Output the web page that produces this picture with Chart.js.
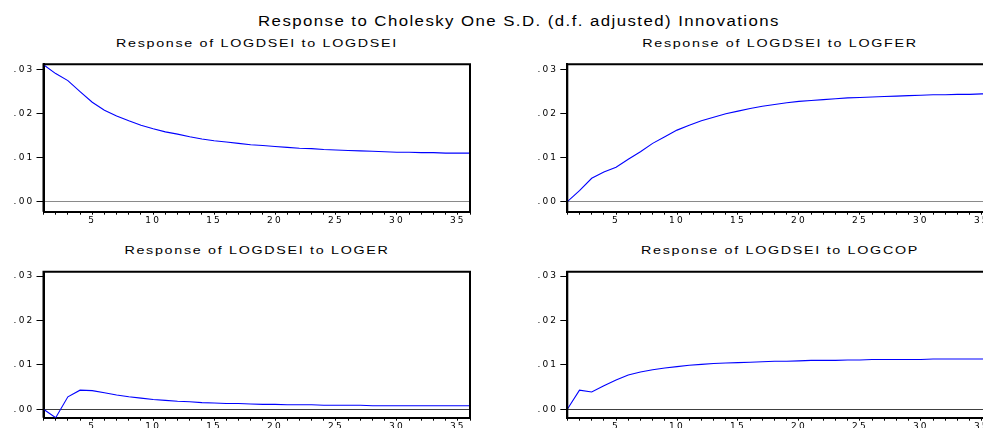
<!DOCTYPE html>
<html>
<head>
<meta charset="utf-8">
<script src="https://cdn.jsdelivr.net/npm/chart.js@4.4.1/dist/chart.umd.min.js"></script>
<style>
  html, body { margin:0; padding:0; background:#fff; width:983px; height:428px; overflow:hidden; }
  body { position:relative; font-family:"Liberation Sans", Arial, sans-serif; color:#000; }
  .box { position:absolute; }
  .t { position:absolute; white-space:nowrap; line-height:1; }
  .main { font-size:14px; letter-spacing:1.2px; transform:translate(-50%,-50%) scaleX(1.2); }
  .sub { font-size:11px; letter-spacing:1.3px; transform:translate(-50%,-50%) scaleX(1.3); }
</style>
</head>
<body>
<div class="t main" style="left:519px;top:21px;">Response to Cholesky One S.D. (d.f. adjusted) Innovations</div>
<div class="t sub" style="left:257px;top:43px;">Response of LOGDSEI to LOGDSEI</div>
<div class="t sub" style="left:780px;top:43px;">Response of LOGDSEI to LOGFER</div>
<div class="t sub" style="left:257px;top:250px;">Response of LOGDSEI to LOGER</div>
<div class="t sub" style="left:780px;top:250px;">Response of LOGDSEI to LOGCOP</div>

<div class="box" style="left:0px;top:55px;width:480px;height:185px;"><canvas id="c1"></canvas></div>
<div class="box" style="left:490px;top:55px;width:520px;height:185px;"><canvas id="c2"></canvas></div>
<div class="box" style="left:0px;top:262px;width:480px;height:185px;"><canvas id="c3"></canvas></div>
<div class="box" style="left:490px;top:262px;width:520px;height:185px;"><canvas id="c4"></canvas></div>

<script>
// ---- data ----
const periods = [1,2,3,4,5,6,7,8,9,10,11,12,13,14,15,16,17,18,19,20,21,22,23,24,25,26,27,28,29,30,31,32,33,34,35,36];
const xTickLabels = [5,10,15,20,25,30,35];
const yTickValues = [0.00, 0.01, 0.02, 0.03];

const respLOGDSEI = [0.0310,0.0290,0.0274,0.0249,0.0225,0.0207,0.0194,0.0183,0.0173,0.0165,0.0158,0.0153,0.0147,0.0142,0.0138,0.0135,0.0132,0.0129,0.0127,0.0125,0.0123,0.0121,0.0120,0.0118,0.0117,0.0116,0.0115,0.0114,0.0113,0.0112,0.0112,0.0111,0.0111,0.0110,0.0110,0.0110];
const respLOGFER = [0.0000,0.0025,0.0053,0.0067,0.0078,0.0096,0.0113,0.0132,0.0147,0.0162,0.0173,0.0183,0.0191,0.0199,0.0205,0.0211,0.0216,0.0220,0.0224,0.0227,0.0229,0.0231,0.0233,0.0235,0.0236,0.0237,0.0238,0.0239,0.0240,0.0241,0.0242,0.0242,0.0243,0.0243,0.0244,0.0244];
const respLOGER = [0.0000,-0.0019,0.0028,0.0043,0.0042,0.0037,0.0032,0.0028,0.0025,0.0022,0.0020,0.0018,0.0017,0.0015,0.0014,0.0013,0.0013,0.0012,0.0011,0.0011,0.0010,0.0010,0.0010,0.0009,0.0009,0.0009,0.0009,0.0008,0.0008,0.0008,0.0008,0.0008,0.0008,0.0008,0.0008,0.0008];
const respLOGCOP = [0.0000,0.0043,0.0039,0.0053,0.0066,0.0077,0.0084,0.0089,0.0093,0.0096,0.0099,0.0101,0.0103,0.0104,0.0105,0.0106,0.0107,0.0108,0.0108,0.0109,0.0110,0.0110,0.0110,0.0111,0.0111,0.0112,0.0112,0.0112,0.0112,0.0112,0.0113,0.0113,0.0113,0.0113,0.0113,0.0113];

// ---- chart helpers ----
const FONT = {family:'"DejaVu Sans", "Liberation Sans", Arial, sans-serif', size:9};

const framePlugin = {
  id:'frame',
  beforeDraw(c){ c.ctx.letterSpacing = '2.2px'; },
  afterDraw(c){
    const {ctx, chartArea:a} = c;
    ctx.save();
    ctx.strokeStyle = '#000';
    ctx.lineWidth = 2;
    ctx.beginPath();
    ctx.moveTo(a.left, a.bottom);
    ctx.lineTo(a.left, a.top);
    ctx.lineTo(a.right, a.top);
    ctx.lineTo(a.right, a.bottom);
    ctx.stroke();
    ctx.restore();
  }
};

function makeChart(id, values, cfg){
  const data = periods.map((p,i)=>({x:p, y:values[i]}));
  return new Chart(document.getElementById(id), {
    type:'line',
    data:{ datasets:[{ data, borderColor:'#0000ff', borderWidth:1.1, pointRadius:0, tension:0, fill:false }] },
    options:{
      responsive:true, maintainAspectRatio:false, animation:false,
      layout:{ padding:{ top:cfg.padTop, right:cfg.padRight, left:0, bottom:0 } },
      plugins:{ legend:{display:false}, tooltip:{enabled:false}, title:{display:false} },
      scales:{
        x:{
          type:'linear', min:1, max:36,
          afterBuildTicks(s){ s.ticks = periods.map(v=>({value:v})); },
          afterFit(s){ s.height = cfg.xHeight; },
          ticks:{ autoSkip:false, maxRotation:0, color:'#000', font:FONT, padding:1,
                  callback:(v)=> xTickLabels.includes(v) ? String(v) : '' },
          grid:{ drawOnChartArea:false, drawTicks:true, tickLength:3, tickColor:'#000', tickWidth:1 },
          border:{ display:true, color:'#000', width:2 }
        },
        y:{
          type:'linear', min:cfg.yMin, max:cfg.yMax,
          afterBuildTicks(s){ s.ticks = yTickValues.map(v=>({value:v})); },
          afterFit(s){ s.width = cfg.yWidth; },
          ticks:{ color:'#000', font:FONT, padding:2,
                  callback:(v)=> v.toFixed(2).replace(/^0/, '') },
          grid:{ drawOnChartArea:true, drawTicks:true, tickLength:7, tickColor:'#000',
                 color:(ctx)=> (ctx.tick && ctx.tick.value === 0) ? cfg.zeroColor : 'rgba(0,0,0,0)',
                 lineWidth:1 },
          border:{ display:true, color:'#000', width:2 }
        }
      }
    },
    plugins:[framePlugin]
  });
}

makeChart('c1', respLOGDSEI, {padTop:9.3, padRight:10, xHeight:28.3, yWidth:43.5, yMin:-0.00227, yMax:0.0311, zeroColor:'#8a8a8a'});
makeChart('c2', respLOGFER,  {padTop:9.3, padRight:16, xHeight:28.3, yWidth:77.3, yMin:-0.00227, yMax:0.0311, zeroColor:'#8a8a8a'});
makeChart('c3', respLOGER,   {padTop:9.7, padRight:10, xHeight:29.3, yWidth:43.5, yMin:-0.0019, yMax:0.03097, zeroColor:'#404040'});
makeChart('c4', respLOGCOP,  {padTop:9.7, padRight:16, xHeight:29.3, yWidth:77.3, yMin:-0.0019, yMax:0.03097, zeroColor:'#404040'});
</script>
</body>
</html>
